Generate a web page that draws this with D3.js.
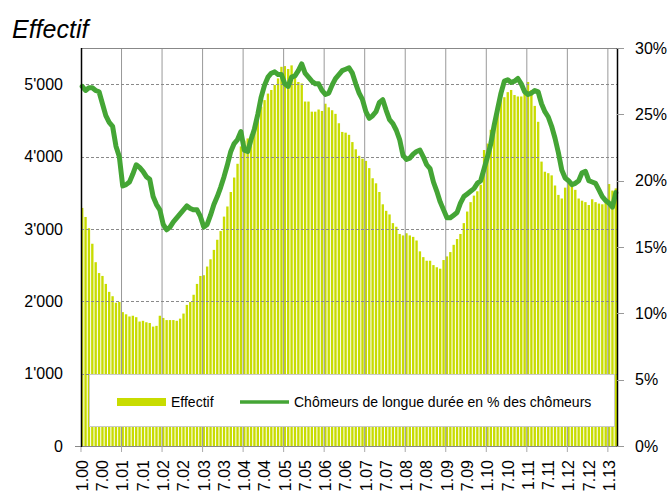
<!DOCTYPE html>
<html>
<head>
<meta charset="utf-8">
<script src="https://cdn.jsdelivr.net/npm/d3@7"></script>
<style>
  body { margin: 0; background: #fff; }
  svg { display: block; font-family: "Liberation Sans", Arial, sans-serif; }
</style>
</head>
<body>
<div id="chart"></div>
<script>
// monthly data, 1.2000 .. 3.2013
let startYear = 2000;
let effectif = [
  3290, 3165, 3010, 2795, 2540, 2390, 2350, 2240, 2130, 2070, 1980, 1990,
  1850, 1820, 1790, 1800, 1780, 1720, 1730, 1710, 1700, 1650, 1660, 1800,
  1770, 1740, 1740, 1740, 1730, 1760, 1830, 1950, 1990, 2090, 2240, 2350,
  2360, 2480, 2580, 2710, 2850, 2970, 3170, 3310, 3510, 3710, 3900, 4140,
  4220, 4250, 4310, 4420, 4560, 4690, 4780, 4870, 4920, 4990, 5080, 5240,
  5250, 5210, 5260, 5120, 5030, 5010, 4760, 4760, 4620, 4620, 4650, 4630,
  4730, 4680, 4640, 4590, 4460, 4340, 4330, 4300, 4200, 4100, 4010, 3970,
  3940, 3840, 3700, 3630, 3510, 3340, 3250, 3200, 3080, 3030, 2930, 2910,
  2940, 2910, 2890, 2840, 2690, 2610, 2560, 2560, 2500, 2470, 2450, 2570,
  2620, 2680, 2780, 2860, 2930, 3080, 3240, 3370, 3460, 3520, 3610, 4090,
  4180, 4370, 4500, 4680, 4790, 4820, 4890, 4920, 4850, 4830, 4830, 4870,
  5030, 4920, 4700, 4480, 3930, 3790, 3770, 3740, 3600, 3470, 3420, 3570,
  3640, 3600, 3540, 3420, 3390, 3370, 3330, 3410, 3370, 3350, 3340, 3380,
  3620, 3530, 3560
];
let tauxLongue = [
  27.1, 26.8, 27.0, 27.0, 26.8, 26.7, 25.8, 24.9, 24.4, 24.1, 22.6, 21.8,
  19.6, 19.7, 19.9, 20.5, 21.2, 21.0, 20.7, 20.3, 20.1, 18.8, 18.2, 17.8,
  16.7, 16.3, 16.5, 16.9, 17.2, 17.5, 17.8, 18.1, 17.9, 17.8, 17.8, 17.3,
  16.5, 16.7, 17.4, 18.2, 18.8, 19.5, 20.3, 21.2, 22.2, 22.8, 23.1, 23.7,
  22.3, 22.2, 23.1, 23.9, 25.0, 26.3, 27.2, 27.8, 28.1, 28.2, 28.0, 28.0,
  27.3, 27.1, 27.8, 27.9, 28.3, 28.8, 28.1, 27.8, 27.5, 27.3, 27.3, 26.8,
  26.5, 26.6, 27.2, 27.7, 28.0, 28.3, 28.4, 28.5, 28.1, 27.3, 26.6, 26.1,
  25.2, 24.7, 24.9, 25.2, 25.9, 26.1, 25.3, 24.6, 24.3, 23.8, 23.1, 21.9,
  21.6, 21.7, 22.0, 22.2, 22.3, 21.8, 21.2, 20.9, 19.9, 19.2, 18.4, 17.8,
  17.2, 17.2, 17.4, 17.6, 18.3, 18.8, 19.0, 19.2, 19.4, 19.8, 20.0, 20.9,
  21.8, 22.8, 24.2, 25.4, 26.6, 27.5, 27.6, 27.4, 27.5, 27.7, 27.3, 26.7,
  26.5, 26.6, 26.8, 26.7, 25.8, 25.2, 24.8, 24.1, 23.2, 22.1, 20.8, 20.2,
  20.0, 19.7, 19.8, 20.0, 20.6, 20.7, 20.0, 19.9, 19.8, 19.3, 18.8, 18.5,
  18.3, 18.0, 19.1
];
let xTickLabels = [
  '1.00', '7.00', '1.01', '7.01', '1.02', '7.02', '1.03', '7.03', '1.04',
  '7.04', '1.05', '7.05', '1.06', '7.06', '1.07', '7.07', '1.08', '7.08',
  '1.09', '7.09', '1.10', '7.10', '1.11', '7.11', '1.12', '7.12', '1.13'
];
let leftTicks = [0, 1000, 2000, 3000, 4000, 5000];
let rightTicks = [0, 5, 10, 15, 20, 25, 30];
let legendLabels = ['Effectif', 'Chômeurs de longue durée en % des chômeurs'];

let width = 667, height = 492;
let margin = {top: 48, right: 50, bottom: 46, left: 81};
let colorBar = '#c8dc00';
let colorLine = '#44a535';

let months = effectif.map((d, i) => {
  let m = (i % 12) + 1;
  let yy = String((startYear + Math.floor(i / 12)) % 100).padStart(2, '0');
  return m + '.' + yy;
});

let data = months.map((m, i) => ({month: m, count: effectif[i], pct: tauxLongue[i]}));

let svg = d3.select('#chart').append('svg')
  .attr('width', width)
  .attr('height', height);

let x = d3.scaleBand()
  .domain(months)
  .range([margin.left, width - margin.right - 0])
  .paddingInner(0.3)
  .paddingOuter(0);

let yL = d3.scaleLinear().domain([0, 5500]).range([height - margin.bottom, margin.top]);
let yR = d3.scaleLinear().domain([0, 30]).range([height - margin.bottom, margin.top]);

let x0 = margin.left, x1 = width - margin.right;
let yb = height - margin.bottom;

// bars
svg.append('g').selectAll('rect')
  .data(data)
  .enter().append('rect')
  .attr('x', d => x(d.month))
  .attr('width', x.bandwidth())
  .attr('y', d => yL(d.count))
  .attr('height', d => yb - yL(d.count))
  .attr('fill', colorBar);

// gridlines
let step = x.step();
svg.append('g').selectAll('line.vg')
  .data(months.filter((m, i) => i % 12 === 0 && i > 0))
  .enter().append('line')
  .attr('x1', d => x(d) - step * 0.15 + 0.5)
  .attr('x2', d => x(d) - step * 0.15 + 0.5)
  .attr('y1', margin.top)
  .attr('y2', yb)
  .attr('stroke', '#999')
  .attr('stroke-width', 1);

svg.append('g').selectAll('line.hg')
  .data(leftTicks.filter(d => d > 0))
  .enter().append('line')
  .attr('x1', x0)
  .attr('x2', x1)
  .attr('y1', d => Math.round(yL(d)) + 0.5)
  .attr('y2', d => Math.round(yL(d)) + 0.5)
  .attr('stroke', '#8a8a8a')
  .attr('stroke-dasharray', '3,2')
  .attr('stroke-width', 1);

// top border
svg.append('line')
  .attr('x1', x0).attr('x2', x1)
  .attr('y1', margin.top + 0.5).attr('y2', margin.top + 0.5)
  .attr('stroke', '#888');

// legend box
let lg = svg.append('g');
lg.append('rect')
  .attr('x', 89.5).attr('y', 374.5)
  .attr('width', 525).attr('height', 52)
  .attr('fill', '#fff')
  .attr('stroke', '#c8c8c8');
lg.append('rect')
  .attr('x', 117).attr('y', 398)
  .attr('width', 49).attr('height', 8)
  .attr('fill', colorBar);
lg.append('text')
  .attr('x', 171).attr('y', 402).attr('dy', '0.35em')
  .attr('font-size', 14)
  .text(legendLabels[0]);
lg.append('line')
  .attr('x1', 240).attr('x2', 289)
  .attr('y1', 402).attr('y2', 402)
  .attr('stroke', colorLine)
  .attr('stroke-width', 3.5);
lg.append('text')
  .attr('x', 294).attr('y', 402).attr('dy', '0.35em')
  .attr('font-size', 14)
  .text(legendLabels[1]);

// line
let line = d3.line()
  .x(d => x(d.month) + x.bandwidth() / 2)
  .y(d => yR(d.pct));

svg.append('path')
  .datum(data)
  .attr('d', line)
  .attr('fill', 'none')
  .attr('stroke', colorLine)
  .attr('stroke-width', 5)
  .attr('stroke-linejoin', 'round')
  .attr('stroke-linecap', 'round');

// bottom axis
svg.append('line')
  .attr('x1', x0 - 6).attr('x2', x1)
  .attr('y1', yb + 0.5).attr('y2', yb + 0.5)
  .attr('stroke', '#888');

svg.append('g').selectAll('line.xt')
  .data(months.filter((m, i) => i % 12 === 0))
  .enter().append('line')
  .attr('x1', d => x(d) - step * 0.15 + 0.5)
  .attr('x2', d => x(d) - step * 0.15 + 0.5)
  .attr('y1', yb)
  .attr('y2', yb + 6)
  .attr('stroke', '#aaa');

svg.append('g').selectAll('text.xl')
  .data(xTickLabels)
  .enter().append('text')
  .attr('transform', d => 'translate(' + (x(d) + x.bandwidth() / 2) + ',' + 460 + ') rotate(-90)')
  .attr('text-anchor', 'end')
  .attr('dy', '0.36em')
  .attr('font-size', 16)
  .attr('fill', '#000')
  .text(d => d);

// left / right borders
svg.append('line')
  .attr('x1', x0 + 0.5).attr('x2', x0 + 0.5)
  .attr('y1', margin.top).attr('y2', yb + 1)
  .attr('stroke', '#000').attr('stroke-width', 1.5);
svg.append('line')
  .attr('x1', x1 + 0.5).attr('x2', x1 + 0.5)
  .attr('y1', margin.top).attr('y2', yb + 1)
  .attr('stroke', '#000').attr('stroke-width', 1.5);

// left labels
svg.append('g').selectAll('text.yl')
  .data(leftTicks)
  .enter().append('text')
  .attr('x', 63)
  .attr('y', d => yL(d))
  .attr('dy', '0.36em')
  .attr('text-anchor', 'end')
  .attr('font-size', 16)
  .text(d => d3.format(',')(d).replace(/,/g, "'"));

// right ticks + labels
svg.append('g').selectAll('line.rt')
  .data(rightTicks)
  .enter().append('line')
  .attr('x1', x1).attr('x2', x1 + 7)
  .attr('y1', d => Math.round(yR(d)) + 0.5)
  .attr('y2', d => Math.round(yR(d)) + 0.5)
  .attr('stroke', '#999');

svg.append('g').selectAll('text.yr')
  .data(rightTicks)
  .enter().append('text')
  .attr('x', 635)
  .attr('y', d => yR(d))
  .attr('dy', '0.36em')
  .attr('font-size', 16)
  .text(d => d + '%');

// title
svg.append('text')
  .attr('x', 12)
  .attr('y', 38)
  .attr('font-size', 25)
  .attr('font-style', 'italic')
  .text('Effectif');
</script>
</body>
</html>
